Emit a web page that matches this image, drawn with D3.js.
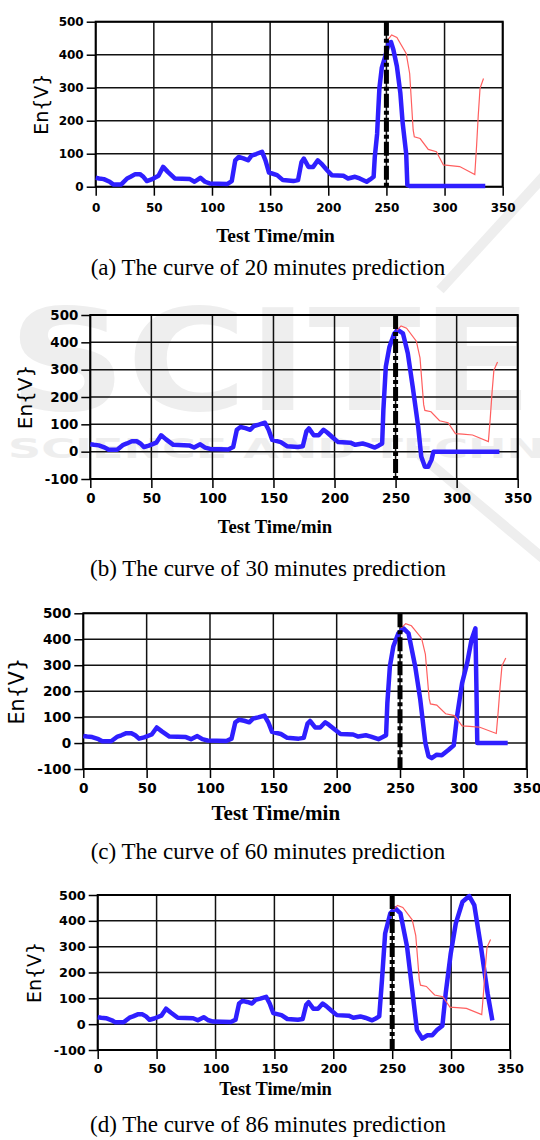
<!DOCTYPE html>
<html>
<head>
  <meta charset="utf-8">
  <script src="https://d3js.org/d3.v7.min.js"></script>
  <style>
    body { margin: 0; background: #fff; }
    svg { display: block; }
    .tick text { font-family: "DejaVu Sans", sans-serif; font-weight: bold; fill: #000; }
    .caption { font-family: "Liberation Serif", "Times New Roman", serif; fill: #000; }
    .axis-title { font-family: "Liberation Serif", "Times New Roman", serif; font-weight: bold; fill: #000; }
    .y-title { font-family: "DejaVu Sans", sans-serif; fill: #000; }
  </style>
</head>
<body>
  <svg width="540" height="1140"></svg>

  <script>
    // measured curve (0-239 min), shared by every panel
    const baseTime = [0, 3, 7, 12, 15, 22, 27, 30, 34, 38, 41, 44, 48, 54, 58, 62, 68, 81, 85, 90,
      94, 98, 113, 117, 120, 123, 127, 131, 134, 138, 143, 146, 149, 156, 161, 170, 174, 177, 179, 183,
      187, 191, 194, 199, 203, 213, 217, 223, 227, 233, 236, 239];
    const baseEn = [27, 25, 23, 15, 7, 7, 25, 30, 38, 38, 30, 17, 22, 33, 60, 45, 25, 23, 15, 27,
      15, 10, 8, 17, 80, 90, 86, 80, 94, 99, 106, 80, 43, 35, 20, 17, 20, 75, 85, 60,
      60, 80, 70, 50, 35, 33, 25, 30, 25, 15, 22, 30];

    // predicted tails
    const tail20Time = [240, 242, 243, 244, 246, 249, 252, 254, 256, 259, 262, 264, 267, 268, 270, 335];
    const tail20En = [90, 160, 232, 300, 360, 395, 435, 438, 415, 365, 283, 192, 100, 5, 2, 2];

    const tail30Time = [240, 242, 245, 249, 252, 256, 260, 264, 268.5, 271, 274, 276.7, 279.4, 281, 335];
    const tail30En = [152, 311, 384, 433, 445, 433, 360, 238, 92, -18, -55, -55, -30, 0, 0];

    const tail60Time = [240, 242, 244.7, 248.7, 252.7, 256.7, 262, 266, 270, 272.5, 275, 279, 283, 288.4,
      292.4, 295, 299, 303, 306.4, 309.5, 310.3, 311, 335];
    const tail60En = [154, 295, 372, 423, 442, 423, 295, 167, 0, -51, -58, -45, -47, -26,
      -9, 103, 231, 308, 397, 442, 218, 0, 0];

    const tail86Time = [241.3, 244, 248.4, 252.6, 257, 262.6, 267, 271, 275.5, 279.7, 284, 288, 292.6,
      295.4, 299.7, 304, 309.7, 315.4, 319.7, 325.3, 331, 335];
    const tail86En = [170, 351, 429, 448, 429, 300, 132, -23, -56, -43, -43, -23, -6,
      119, 274, 390, 474, 496, 461, 300, 119, 15];

    // actual (red) curve
    const actualTime = [251, 254.5, 259, 267, 270, 273, 274, 279, 286, 293, 299, 305, 313, 326, 327.5, 329, 330.5, 333.5];
    const actualEn = [444, 460, 452, 404, 343, 172, 151, 146, 113, 106, 66, 64, 61, 37, 121, 217, 298, 328];

    const forecastStart = 250;
    const xTicks = [0, 50, 100, 150, 200, 250, 300, 350];
    const yTicksPos = [0, 100, 200, 300, 400, 500];
    const yTicksNeg = [-100, 0, 100, 200, 300, 400, 500];
    const captions = [
      "(a) The curve of 20 minutes prediction",
      "(b) The curve of 30 minutes prediction",
      "(c) The curve of 60 minutes prediction",
      "(d) The curve of 86 minutes prediction"
    ];

    const svg = d3.select("svg");

    // faint publisher watermark in the background
    const wm = svg.append("g").attr("fill", "#eeeeee");
    wm.append("text").text("SCITE")
      .attr("x", 8).attr("y", 410)
      .attr("font-family", "DejaVu Sans").attr("font-weight", "bold")
      .attr("font-size", 140)
      .attr("textLength", 525).attr("lengthAdjust", "spacingAndGlyphs");
    wm.append("text").text("SCIENCE AND TECHNOLOGY")
      .attr("x", 8).attr("y", 458)
      .attr("font-family", "DejaVu Sans").attr("font-weight", "bold")
      .attr("font-size", 27)
      .attr("textLength", 713).attr("lengthAdjust", "spacingAndGlyphs");
    wm.append("path").attr("d", "M545,175 L440,290").attr("stroke", "#eeeeee").attr("stroke-width", 10);
    wm.append("path").attr("d", "M420,455 L545,560").attr("stroke", "#eeeeee").attr("stroke-width", 10);

    // panel placement (pixel geometry)
    const panels = [
      { tail: [tail20Time, tail20En], x0: 95.7, x1: 502.7, yTop: 21.7, yBot: 186.7, yMin: 0,
        tickFont: 12, xPad: 8, titleFont: 19.4, titleX: 275.5, titleY: 241.7, labelX: 47.5, labelFont: 19, capY: 275 },
      { tail: [tail30Time, tail30En], x0: 90.3, x1: 517.7, yTop: 315, yBot: 479, yMin: -100,
        tickFont: 13.4, xPad: 5, titleFont: 18.7, titleX: 275, titleY: 533.3, labelX: 32.4, labelFont: 20, capY: 576 },
      { tail: [tail60Time, tail60En], x0: 83.3, x1: 526.7, yTop: 613.3, yBot: 769, yMin: -100,
        tickFont: 13.6, xPad: 5, titleFont: 21, titleX: 275.8, titleY: 820, labelX: 24, labelFont: 20.7, capY: 859 },
      { tail: [tail86Time, tail86En], x0: 97.7, x1: 510, yTop: 895, yBot: 1050, yMin: -100,
        tickFont: 12.8, xPad: 5, titleFont: 18.4, titleX: 275.5, titleY: 1094.5, labelX: 40.8, labelFont: 19, capY: 1132 }
    ];

    panels.forEach((p, i) => {
      const x = d3.scaleLinear().domain([0, 350]).range([p.x0, p.x1]);
      const y = d3.scaleLinear().domain([p.yMin, 500]).range([p.yBot, p.yTop]);
      const yTicks = p.yMin < 0 ? yTicksNeg : yTicksPos;
      const g = svg.append("g");

      // grid
      g.append("g").selectAll("line").data(xTicks).join("line")
        .attr("x1", d => x(d)).attr("x2", d => x(d))
        .attr("y1", p.yTop).attr("y2", p.yBot)
        .attr("stroke", "#111").attr("stroke-width", 1.5);
      g.append("g").selectAll("line").data(yTicks).join("line")
        .attr("x1", p.x0).attr("x2", p.x1)
        .attr("y1", d => y(d)).attr("y2", d => y(d))
        .attr("stroke", "#111").attr("stroke-width", 1.5);

      // axes
      const ax = g.append("g")
        .attr("transform", `translate(0,${p.yBot})`)
        .call(d3.axisBottom(x).tickValues(xTicks).tickSize(9).tickPadding(p.xPad).tickFormat(d => String(d)));
      ax.select(".domain").remove();
      ax.selectAll("line").attr("stroke-width", 1.5);
      ax.selectAll("text").style("font-size", p.tickFont + "px");

      const ay = g.append("g")
        .attr("transform", `translate(${p.x0},0)`)
        .call(d3.axisLeft(y).tickValues(yTicks).tickSize(9).tickPadding(3).tickFormat(d => String(d)));
      ay.select(".domain").remove();
      ay.selectAll("line").attr("stroke-width", 1.5);
      ay.selectAll("text").style("font-size", p.tickFont + "px");

      // frame
      g.append("rect")
        .attr("x", p.x0).attr("y", p.yTop)
        .attr("width", p.x1 - p.x0).attr("height", p.yBot - p.yTop)
        .attr("fill", "none").attr("stroke", "#000").attr("stroke-width", 2);

      const line = d3.line().x(d => x(d[0])).y(d => y(d[1]));

      // predicted curve
      const blue = d3.zip(baseTime.concat(p.tail[0]), baseEn.concat(p.tail[1]));
      g.append("path").datum(blue)
        .attr("d", line)
        .attr("fill", "none").attr("stroke", "#2f1fff")
        .attr("stroke-width", 4.5).attr("stroke-linejoin", "round");

      // actual curve
      g.append("path").datum(d3.zip(actualTime, actualEn))
        .attr("d", line)
        .attr("fill", "none").attr("stroke", "#ff5f5f").attr("stroke-width", 1.2);

      // forecast start marker
      g.append("line")
        .attr("x1", x(forecastStart)).attr("x2", x(forecastStart))
        .attr("y1", y(500)).attr("y2", y(p.yMin))
        .attr("stroke", "#000").attr("stroke-width", 5)
        .attr("stroke-dasharray", "14,3,4,3");

      // labels
      g.append("text").attr("class", "axis-title")
        .attr("x", p.titleX).attr("y", p.titleY)
        .attr("text-anchor", "middle")
        .style("font-size", p.titleFont + "px")
        .text("Test Time/min");

      g.append("text").attr("class", "y-title")
        .attr("transform", `translate(${p.labelX},${(p.yTop + p.yBot) / 2}) rotate(-90)`)
        .attr("text-anchor", "middle")
        .style("font-size", p.labelFont + "px")
        .text("En{V}");

      svg.append("text").attr("class", "caption")
        .attr("x", 268).attr("y", p.capY)
        .attr("text-anchor", "middle")
        .style("font-size", "23px")
        .text(captions[i]);
    });
  </script>
</body>
</html>
